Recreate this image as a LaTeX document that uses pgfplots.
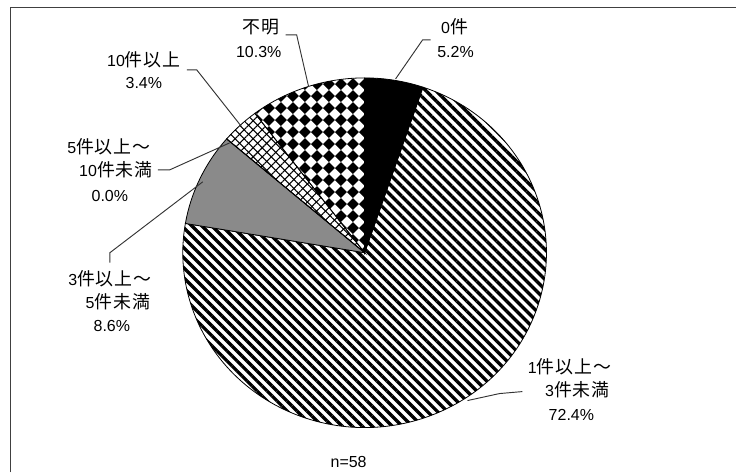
\documentclass[border=0pt]{standalone}
\usepackage{pgfplots}
\pgfplotsset{compat=1.18}
\usepackage{pgfplotstable}
\usetikzlibrary{patterns,patterns.meta}
\usepackage{fontspec}
\setmainfont{Liberation Sans}
\newfontfamily\jp{Noto Sans CJK JP}[Scale=1.12,LetterSpace=5]

% black diamonds on white (rotated checkerboard)
\pgfdeclarepatternformonly{diamondcheck}{\pgfqpoint{0pt}{0pt}}{\pgfqpoint{9pt}{9pt}}{\pgfqpoint{9pt}{9pt}}{%
  \pgfpathmoveto{\pgfqpoint{4.5pt}{0pt}}
  \pgfpathlineto{\pgfqpoint{9pt}{4.5pt}}
  \pgfpathlineto{\pgfqpoint{4.5pt}{9pt}}
  \pgfpathlineto{\pgfqpoint{0pt}{4.5pt}}
  \pgfpathclose
  \pgfusepath{fill}}

% share of each answer, clockwise from the top
\pgfplotstableread{
value
5.2
72.4
8.6
0.0
3.4
10.3
}\piedata

\newcommand\nextangle[3]{%
  \pgfplotstablegetelem{#1}{value}\of\piedata
  \pgfmathsetmacro#3{#2-\pgfplotsretval*(360/\total)}}

% pie in pixel units: centre (365,220), radii 182 x 175
\newcommand\slice[3]{%
  \filldraw[#3, draw=black, line width=0.6pt] (axis cs:365,220)
    -- (axis cs:{365+182*cos(#1)},{220+175*sin(#1)})
    arc[start angle=#1, end angle=#2, x radius=136.5pt, y radius=131.25pt] -- cycle;}

\newcommand\lbl[3]{\node[anchor=base, inner sep=0pt] at (axis cs:#1,{473-#2-6}) {#3};}

\begin{document}
\begin{tikzpicture}
\def\total{0}
\pgfplotstableforeachcolumnelement{value}\of\piedata\as\v{%
  \pgfmathsetmacro\t{\total+\v}\xdef\total{\t}}
\def\angA{90}
\nextangle{0}{\angA}{\angB}
\nextangle{1}{\angB}{\angC}
\nextangle{2}{\angC}{\angD}
\nextangle{3}{\angD}{\angE}
\nextangle{4}{\angE}{\angF}
\nextangle{5}{\angF}{\angG}
\begin{axis}[
    scale only axis,
    width=552.75pt, height=354.75pt,
    xmin=0, xmax=737, ymin=0, ymax=473,
    hide axis,
    clip=false,
]
% keep the whole box as the picture
\path (axis cs:0,0) rectangle (axis cs:737,473);
% frame
\draw[line width=1.2pt, black!75] (axis cs:10.5,0) -- (axis cs:10.5,465.5) -- (axis cs:737,465.5);

% slices
\slice{\angA}{\angB}{fill=black}
\slice{\angB}{\angC}{pattern={Lines[angle=-45,distance=5.3pt,line width=2.5pt]}}
\slice{\angC}{\angD}{fill=black!46}
\slice{\angD}{\angE}{fill=white}
\slice{\angE}{\angF}{pattern={Lines[angle=45,distance=4.8pt,line width=0.8pt]},
  postaction={pattern={Lines[angle=-45,distance=4.8pt,line width=0.8pt]}}}
\slice{\angF}{\angG}{pattern=diamondcheck}

% leader lines
\draw[line width=0.7pt, black!80] (axis cs:396,394) -- (axis cs:423,433) -- (axis cs:431,433);
\draw[line width=0.7pt, black!80] (axis cs:309,386) -- (axis cs:297,438) -- (axis cs:286,438);
\draw[line width=0.7pt, black!80] (axis cs:242,346) -- (axis cs:197,403) -- (axis cs:187,403);
\draw[line width=0.7pt, black!80] (axis cs:230,330) -- (axis cs:170,303) -- (axis cs:158,303);
\draw[line width=0.7pt, black!80] (axis cs:203,291) -- (axis cs:110,220) -- (axis cs:110,210);
\draw[line width=0.7pt, black!80] (axis cs:468,72) -- (axis cs:500,79) -- (axis cs:523,81);

% labels
\fontsize{12}{15}\selectfont
\lbl{261}{28}{\jp 不明}
\lbl{259}{52}{10.3\%}
\lbl{455}{28}{0{\jp 件}}
\lbl{456}{52}{5.2\%}
\lbl{144}{61}{10{\jp 件以上}}
\lbl{144}{83}{3.4\%}
\lbl{109}{148}{5{\jp 件以上～}}
\lbl{116}{171}{10{\jp 件未満}}
\lbl{110}{196}{0.0\%}
\lbl{110}{280}{3{\jp 件以上～}}
\lbl{118}{303}{5{\jp 件未満}}
\lbl{112}{326}{8.6\%}
\lbl{570}{368}{1{\jp 件以上～}}
\lbl{578}{391}{3{\jp 件未満}}
\lbl{572}{415}{72.4\%}
\lbl{349}{462}{n=58}
\end{axis}
\end{tikzpicture}
\end{document}
